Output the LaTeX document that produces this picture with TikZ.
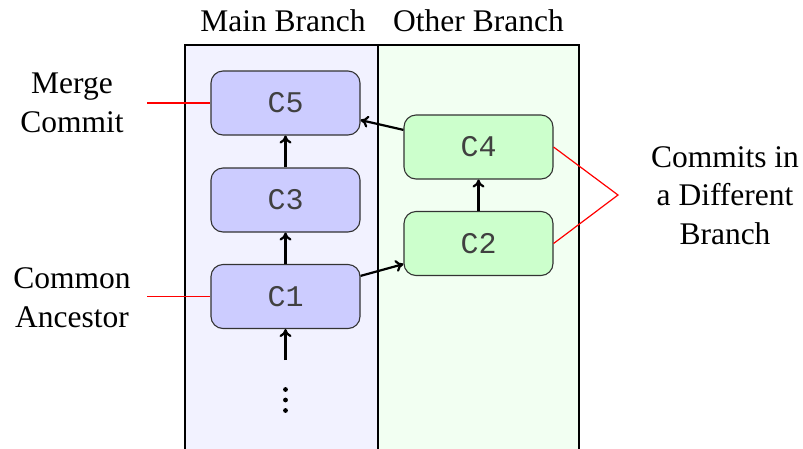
\documentclass[tikz,border=0pt]{standalone}
\usepackage{fontspec}
\setmainfont{Liberation Serif}
\newfontfamily\labelfont{Liberation Serif}
\newfontfamily\monofont{Liberation Mono}
\usetikzlibrary{arrows.meta}
\begin{document}
\begin{tikzpicture}[x=1pt,y=-1pt,
  commit/.style={draw=black!80, line width=1.1pt, rounded corners=12pt,
    minimum width=149pt, minimum height=64pt, inner sep=0pt,
    font=\monofont\fontsize{30}{36}\selectfont, text=black!75},
  maincommit/.style={commit, fill=blue!20},
  othercommit/.style={commit, fill=green!20},
  lbl/.style={font=\labelfont\fontsize{31.5}{38.5}\selectfont, align=center, anchor=base},
  parent/.style={-{To[length=8pt,width=12pt]}, line width=2.2pt},
  callout/.style={red, line width=1.2pt},
  column/.style={draw=black, line width=1.4pt}
]
\useasboundingbox (0,0) rectangle (803,448);
\begin{scope}
\clip (0,0) rectangle (803,448);
\path[column, fill=blue!5] (185,45) rectangle (378,460);
\path[column, fill=green!5] (378,45) rectangle (579,460);
\end{scope}

\node[lbl] (mainlbl) at (283,31) {Main Branch};
\node[lbl] (otherlbl) at (478.5,31) {Other Branch};

\node[maincommit] (C5) at (285.5,103) {C5};
\node[maincommit] (C3) at (285.5,200) {C3};
\node[maincommit] (C1) at (285.5,296.5) {C1};
\node[othercommit] (C4) at (478.5,147) {C4};
\node[othercommit] (C2) at (478.5,243.5) {C2};

\coordinate (dtop) at (285.5,360);
\fill (285.5,389.5) circle (2.4pt) (285.5,400) circle (2.4pt) (285.5,410.5) circle (2.4pt);

\draw[parent] (dtop) -- (C1);
\draw[parent] (C1) -- (C3);
\draw[parent] (C3) -- (C5);
\draw[parent] (C2) -- (C4);
\draw[parent] (C1) -- (C2);
\draw[parent] (C4) -- (C5);

\node[lbl] (merge) at (72,132) {Merge\\Commit};
\node[lbl] (ancestor) at (72,327) {Common\\Ancestor};
\node[lbl] (diff) at (725,244) {Commits in\\a Different\\Branch};

\coordinate (mergeend) at (147,103);
\coordinate (ancend) at (147,296.5);
\coordinate (diffpt) at (618,195);
\draw[callout] (mergeend) -- (C5.west);
\draw[callout] (ancend) -- (C1.west);
\draw[callout] (C4.east) -- (diffpt) -- (C2.east);
\end{tikzpicture}
\end{document}
